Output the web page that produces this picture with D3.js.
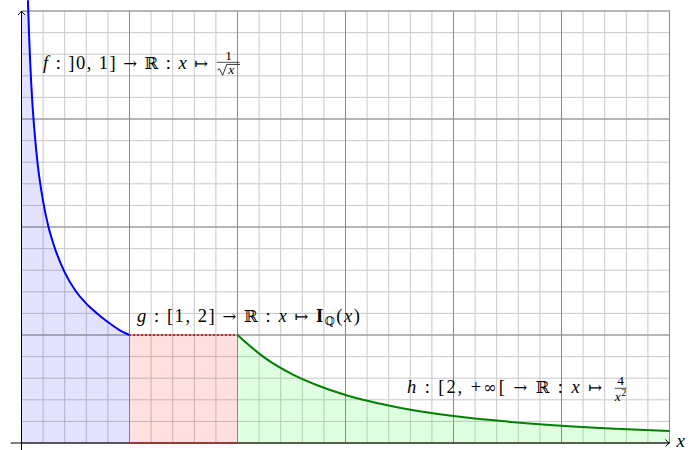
<!DOCTYPE html>
<html><head><meta charset="utf-8">
<script src="https://cdn.jsdelivr.net/npm/d3@7"></script>
<style>html,body{margin:0;padding:0;background:#fff;}svg{display:block;}
text{font-family:"Liberation Serif","DejaVu Serif",serif;}
.m{font-family:"DejaVu Serif","Liberation Serif",serif;}
</style>
</head><body>
<script>
// f(x) = 1/sqrt(x) on ]0,1]
const fX = [0.0595, 0.0625, 0.07, 0.08, 0.09, 0.1, 0.12, 0.15, 0.2, 0.25, 0.3, 0.4, 0.5, 0.6, 0.7, 0.8, 0.9, 1.0];
const fY = [4.10, 4.00, 3.78, 3.54, 3.33, 3.16, 2.89, 2.58, 2.24, 2.00, 1.83, 1.58, 1.41, 1.29, 1.20, 1.12, 1.05, 1.00];
// g = indicator of Q on [1,2] : two dotted levels
const gX = [1, 2];
const gLevels = [1, 0];
// h(x) = 4/x^2 on [2, +inf[
const hX = [2, 2.25, 2.5, 2.75, 3, 3.5, 4, 4.5, 5, 5.5, 6];
const hY = [1.00, 0.79, 0.64, 0.53, 0.444, 0.327, 0.25, 0.198, 0.16, 0.132, 0.111];
const xDomain = [0, 6], yDomain = [0, 4];

const W = 699, H = 450;
const svg = d3.select("body").append("svg").attr("width", W).attr("height", H);
const x = d3.scaleLinear().domain(xDomain).range([21.5, 669.5]);
const y = d3.scaleLinear().domain(yDomain).range([443, 11]);

// grid
const g0 = svg.append("g");
g0.selectAll(".mx").data(x.ticks(30)).join("line")
  .attr("x1", d => x(d)).attr("x2", d => x(d)).attr("y1", y(0)).attr("y2", y(4))
  .attr("stroke", "#c8c8c8").attr("stroke-width", 1);
g0.selectAll(".my").data(y.ticks(20)).join("line")
  .attr("y1", d => y(d)).attr("y2", d => y(d)).attr("x1", x(0)).attr("x2", x(6))
  .attr("stroke", "#c8c8c8").attr("stroke-width", 1);
g0.selectAll(".Mx").data(x.ticks(6)).join("line")
  .attr("x1", d => x(d)).attr("x2", d => x(d)).attr("y1", y(0)).attr("y2", y(4))
  .attr("stroke", "#8a8a8a").attr("stroke-width", 1);
g0.selectAll(".My").data(y.ticks(4)).join("line")
  .attr("y1", d => y(d)).attr("y2", d => y(d)).attr("x1", x(0)).attr("x2", x(6))
  .attr("stroke", "#8a8a8a").attr("stroke-width", 1);

const fPts = fX.map((v, i) => [v, fY[i]]);
const hPts = hX.map((v, i) => [v, hY[i]]);
const line = d3.line().x(d => x(d[0])).y(d => y(d[1])).curve(d3.curveMonotoneX);
const area = d3.area().x(d => x(d[0])).y0(y(0)).y1(d => y(Math.min(d[1], 4))).curve(d3.curveLinear);

// fills
svg.append("path").attr("d", area([[0, 4]].concat(fPts)))
  .attr("fill", "rgb(0,0,255)").attr("fill-opacity", 0.11);
svg.append("rect").attr("x", x(gX[0])).attr("y", y(gLevels[0]))
  .attr("width", x(gX[1]) - x(gX[0])).attr("height", y(gLevels[1]) - y(gLevels[0]))
  .attr("fill", "rgb(255,0,0)").attr("fill-opacity", 0.12);
svg.append("path").attr("d", area(hPts))
  .attr("fill", "rgb(0,255,0)").attr("fill-opacity", 0.12);

// axes
const axisG = svg.append("g").attr("stroke", "#000").attr("fill", "none").attr("stroke-width", 1);
axisG.append("line").attr("x1", x(-0.1)).attr("x2", x(6)).attr("y1", y(0)).attr("y2", y(0));
axisG.append("line").attr("x1", x(0)).attr("x2", x(0)).attr("y1", y(-0.1)).attr("y2", y(4));
axisG.append("path").attr("d", `M${x(6)-4},${y(0)-3.5} Q${x(6)-1.5},${y(0)-0.8} ${x(6)},${y(0)} Q${x(6)-1.5},${y(0)+0.8} ${x(6)-4},${y(0)+3.5}`);
axisG.append("path").attr("d", `M${x(0)-3.5},${y(4)+4} Q${x(0)-0.8},${y(4)+1.5} ${x(0)},${y(4)} Q${x(0)+0.8},${y(4)+1.5} ${x(0)+3.5},${y(4)+4}`);

// curves
svg.append("path").attr("d", line(fPts)).attr("fill", "none")
  .attr("stroke", "#0000ff").attr("stroke-width", 2);
svg.append("path").attr("d", line(hPts)).attr("fill", "none")
  .attr("stroke", "#008000").attr("stroke-width", 2);
svg.selectAll(".gl").data(gLevels).join("line").attr("class", "gl")
  .attr("x1", x(gX[0]) - 0.5).attr("x2", x(gX[1]) + 0.5).attr("y1", d => y(d)).attr("y2", d => y(d))
  .attr("stroke", "#d42020").attr("stroke-width", 2).attr("stroke-dasharray", "2,2");

// labels
function label(px, py, len, parts) {
  const t = svg.append("text").attr("x", px).attr("y", py)
    .attr("font-size", 18.5).attr("fill", "#000")
    .attr("textLength", len).attr("lengthAdjust", "spacing");
  parts.forEach(p => {
    const s = t.append("tspan").text(p.t);
    if (p.i) s.attr("font-style", "italic");
    if (p.b) s.attr("font-weight", "bold");
    if (p.m) s.attr("class", "m").attr("font-size", p.fs || 16.5);
    if (p.fs && !p.m) s.attr("font-size", p.fs);
    if (p.dy) s.attr("dy", p.dy);
  });
  return t;
}
label(43, 69, 165, [
  {t: "f", i: 1}, {t: " : ]0, 1] "}, {t: "→", m: 1}, {t: " "}, {t: "ℝ", m: 1}, {t: " : "},
  {t: "x", i: 1}, {t: " "}, {t: "↦", m: 1}
]);
// fraction 1/sqrt(x)
svg.append("text").attr("x", 228.5).attr("y", 59.8).attr("text-anchor", "middle")
  .attr("font-size", 13.5).text("1");
svg.append("line").attr("x1", 216.8).attr("x2", 239.5).attr("y1", 62.3).attr("y2", 62.3)
  .attr("stroke", "#000").attr("stroke-width", 0.7);
svg.append("path").attr("d", "M217.5,70 L219.5,68.8 L222.6,75.3 L226.8,64.4 L240,64.4")
  .attr("fill", "none").attr("stroke", "#000").attr("stroke-width", 0.8);
svg.append("text").attr("x", 228.2).attr("y", 73.5)
  .attr("font-style", "italic").attr("font-size", 13.5).text("x");

label(137, 322, 223, [
  {t: "g", i: 1}, {t: " : [1, 2] "}, {t: "→", m: 1}, {t: " "}, {t: "ℝ", m: 1}, {t: " : "},
  {t: "x", i: 1}, {t: " "}, {t: "↦", m: 1}, {t: " "}, {t: "I", b: 1},
  {t: "ℚ", m: 1, fs: 11.5, dy: 3}, {t: "(", dy: -3}, {t: "x", i: 1}, {t: ")"}
]);

label(407, 392.5, 195, [
  {t: "h", i: 1}, {t: " : [2, +"}, {t: "∞", m: 1}, {t: "[ "}, {t: "→", m: 1}, {t: " "},
  {t: "ℝ", m: 1}, {t: " : "}, {t: "x", i: 1}, {t: " "}, {t: "↦", m: 1}
]);
svg.append("text").attr("x", 620.5).attr("y", 385.2).attr("text-anchor", "middle")
  .attr("font-size", 13.5).text("4");
svg.append("line").attr("x1", 614.8).attr("x2", 626.5).attr("y1", 388.3).attr("y2", 388.3)
  .attr("stroke", "#000").attr("stroke-width", 0.7);
svg.append("text").attr("x", 614.8).attr("y", 400.5)
  .attr("font-style", "italic").attr("font-size", 13.5).text("x");
svg.append("text").attr("x", 621.5).attr("y", 395.5)
  .attr("font-size", 9.5).text("2");

svg.append("text").attr("x", 676.5).attr("y", 446.5)
  .attr("font-style", "italic").attr("font-size", 19).text("x");
</script>
</body></html>
